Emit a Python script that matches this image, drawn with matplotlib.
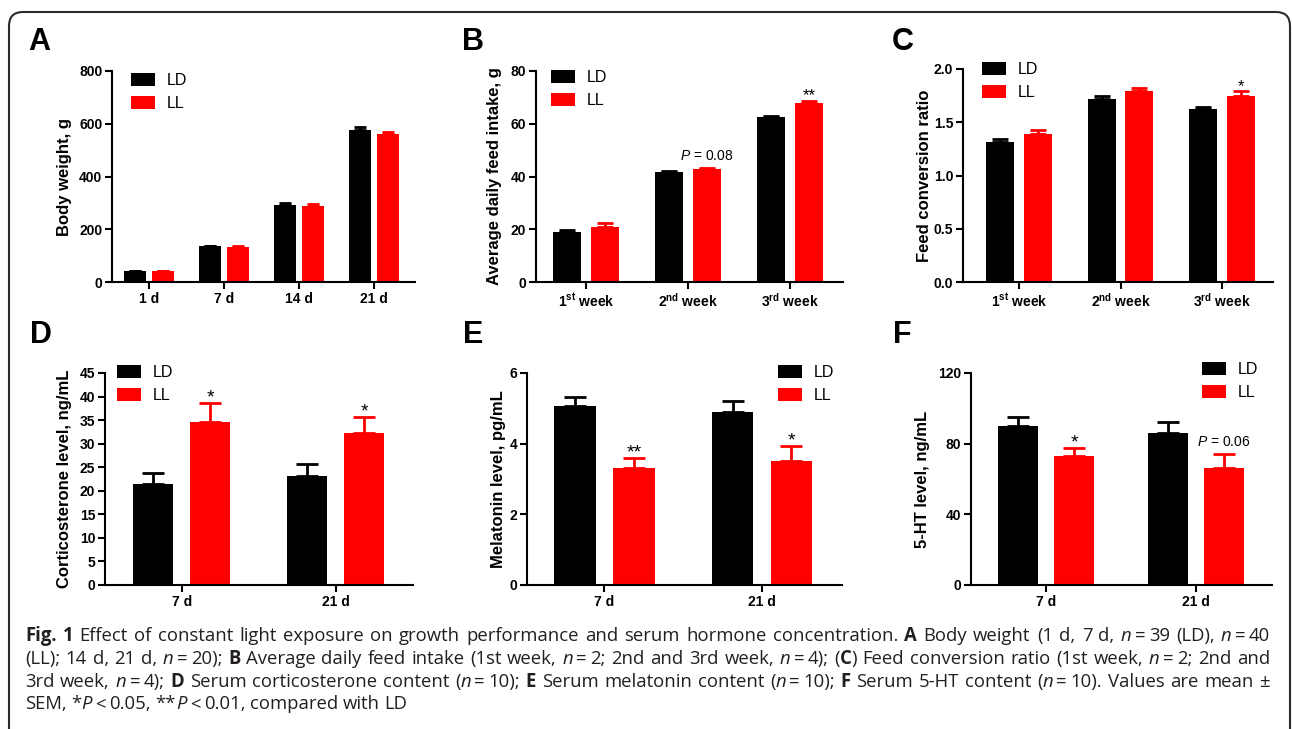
import re
import matplotlib
matplotlib.use('Agg')
import matplotlib.pyplot as plt
from matplotlib.patches import FancyBboxPatch
from matplotlib.transforms import IdentityTransform
import numpy as np

W, H = 1292, 729

plt.rcParams['font.family'] = ['Liberation Sans', 'DejaVu Sans']
plt.rcParams['mathtext.fontset'] = 'custom'
plt.rcParams['mathtext.rm'] = 'Liberation Sans'
plt.rcParams['mathtext.bf'] = 'Liberation Sans:bold'
plt.rcParams['mathtext.it'] = 'Liberation Sans:italic'
plt.rcParams['mathtext.default'] = 'bf'

groups = ['LD', 'LL']
colors = ['#000000', '#ff0000']

# A  body weight, g
a_cats = ['1 d', '7 d', '14 d', '21 d']
a_ld = [41, 135, 293, 576]
a_ld_err = [2, 3, 8, 11]
a_ll = [41, 133, 289, 563]
a_ll_err = [2, 2, 6, 7]
a_notes = []

# B  average daily feed intake, g
b_cats = ['1$^{st}$ week', '2$^{nd}$ week', '3$^{rd}$ week']
b_ld = [19.0, 41.8, 62.7]
b_ld_err = [0.6, 0.3, 0.4]
b_ll = [21.0, 42.8, 67.8]
b_ll_err = [1.2, 0.5, 0.8]
b_notes = [(1, r'$\mathit{P}$ = 0.08'), (2, '**')]

# C  feed conversion ratio
c_cats = ['1$^{st}$ week', '2$^{nd}$ week', '3$^{rd}$ week']
c_ld = [1.31, 1.72, 1.62]
c_ld_err = [0.03, 0.03, 0.025]
c_ll = [1.39, 1.79, 1.75]
c_ll_err = [0.04, 0.03, 0.04]
c_notes = [(2, '*')]

# D  corticosterone, ng/mL
d_cats = ['7 d', '21 d']
d_ld = [21.4, 23.2]
d_ld_err = [2.3, 2.4]
d_ll = [34.7, 32.2]
d_ll_err = [4.0, 3.5]
d_notes = [(0, '*'), (1, '*')]

# E  melatonin, pg/mL
e_cats = ['7 d', '21 d']
e_ld = [5.07, 4.89]
e_ld_err = [0.26, 0.32]
e_ll = [3.30, 3.51]
e_ll_err = [0.30, 0.42]
e_notes = [(0, '**'), (1, '*')]

# F  5-HT, ng/mL
f_cats = ['7 d', '21 d']
f_ld = [90.0, 86.2]
f_ld_err = [4.9, 6.2]
f_ll = [73.2, 66.0]
f_ll_err = [4.2, 8.1]
f_notes = [(0, '*'), (1, r'$\mathit{P}$ = 0.06')]

caption = [
    "[Fig. 1] Effect of constant light exposure on growth performance and serum hormone concentration. "
    "[A] Body weight (1 d, 7 d, {n}~=~39 (LD), {n}~=~40",
    "(LL); 14 d, 21 d, {n}~=~20); [B] Average daily feed intake (1st week, {n}~=~2; 2nd and 3rd week, "
    "{n}~=~4); ([C]) Feed conversion ratio (1st week, {n}~=~2; 2nd and",
    "3rd week, {n}~=~4); [D] Serum corticosterone content ({n}~=~10); [E] Serum melatonin content "
    "({n}~=~10); [F] Serum 5-HT content ({n}~=~10). Values are mean \u00b1",
    "SEM, *{P}~<~0.05, **{P}~<~0.01, compared with LD",
]

fig = plt.figure(figsize=(W / 100, H / 100), dpi=100)


def panel(rect, letter, letter_pos, cats, ld, ld_err, ll, ll_err, ylim, yticks,
          ylabel, ylabel_x, xlim, width, off, leg_pos, notes, star_fs, yfmt=None):
    x0, y0, x1, y1 = rect
    ax = fig.add_axes([x0 / W, 1 - y1 / H, (x1 - x0) / W, (y1 - y0) / H])
    x = np.arange(len(cats))
    bw_px = width * (x1 - x0) / (xlim[1] - xlim[0])
    cap = 0.27 * bw_px * 0.72
    for vals, errs, dx, c, g in [(ld, ld_err, -off, colors[0], groups[0]),
                                 (ll, ll_err, off, colors[1], groups[1])]:
        ax.bar(x + dx, vals, width, color=c, label=g, zorder=2)
        ax.errorbar(x + dx, vals, yerr=[np.zeros(len(vals)), errs], fmt='none',
                    ecolor=c, elinewidth=2, capsize=cap, capthick=2, zorder=1)

    for i, txt in notes:
        top = ll[i] + ll_err[i]
        if txt.startswith('*'):
            ax.annotate(txt, (x[i] + off, top), xytext=(0, 0.5), textcoords='offset points',
                        ha='center', va='baseline', fontsize=star_fs)
        else:
            ax.annotate(txt, (x[i] + off, top), xytext=(0, 5.5), textcoords='offset points',
                        ha='center', va='baseline', fontsize=10)

    ax.set_xlim(*xlim)
    ax.set_ylim(*ylim)
    ax.set_yticks(yticks)
    if yfmt:
        ax.set_yticklabels([yfmt % t for t in yticks])
    ax.set_xticks(x, cats)
    for s in ['top', 'right']:
        ax.spines[s].set_visible(False)
    for s in ['left', 'bottom']:
        ax.spines[s].set_linewidth(1.5)
    ax.tick_params(width=1.5, length=5, labelsize=10, pad=2)
    for lbl in ax.get_xticklabels() + ax.get_yticklabels():
        lbl.set_fontweight('bold')
    ax.set_ylabel(ylabel, fontsize=12, fontweight='bold', va='center')
    ax.yaxis.set_label_coords((ylabel_x - x0) / (x1 - x0), 0.5)

    lx, ly = leg_pos
    ax.legend(loc='upper left',
              bbox_to_anchor=((lx - x0) / (x1 - x0), 1 - (ly - 2 - y0) / (y1 - y0)),
              frameon=False, fontsize=11.5, handlelength=1.5, handleheight=0.875,
              handletextpad=0.75, labelspacing=0.47, borderpad=0, borderaxespad=0)

    fig.text(letter_pos[0] / W, 1 - letter_pos[1] / H, letter, fontsize=22,
             fontweight='bold', va='baseline', ha='left')
    return ax


panel((112, 71, 415, 282), 'A', (28, 50), a_cats, a_ld, a_ld_err, a_ll, a_ll_err,
      (0, 800), [0, 200, 400, 600, 800], 'Body weight, g', 65,
      (-0.493, 3.547), 0.29, 0.185, (131, 75), a_notes, 12)
panel((536, 71, 843, 282), 'B', (462, 50), b_cats, b_ld, b_ld_err, b_ll, b_ll_err,
      (0, 80), [0, 20, 40, 60, 80], 'Average daily feed intake, g', 495,
      (-0.49, 2.52), 0.275, 0.186, (551, 72), b_notes, 12)
panel((963, 69, 1273, 282), 'C', (892, 50), c_cats, c_ld, c_ld_err, c_ll, c_ll_err,
      (0, 2.0), [0, 0.5, 1.0, 1.5, 2.0], 'Feed conversion ratio', 925,
      (-0.552, 2.502), 0.276, 0.185, (982, 64), c_notes, 12, '%.1f')
panel((105, 373, 413, 585), 'D', (30, 343), d_cats, d_ld, d_ld_err, d_ll, d_ll_err,
      (0, 45), list(range(0, 50, 5)), 'Corticosterone level, ng/mL', 65,
      (-0.499, 1.504), 0.26, 0.186, (117, 367), d_notes, 14)
panel((527, 373, 842, 585), 'E', (463, 343), e_cats, e_ld, e_ld_err, e_ll, e_ll_err,
      (0, 6), [0, 2, 4, 6], 'Melatonin level, pg/mL', 498,
      (-0.492, 1.508), 0.263, 0.187, (778, 367), e_notes, 14)
panel((971, 373, 1272, 585), 'F', (893, 343), f_cats, f_ld, f_ld_err, f_ll, f_ll_err,
      (0, 120), [0, 40, 80, 120], '5-HT level, ng/mL', 923,
      (-0.5, 1.507), 0.267, 0.187, (1202, 364), f_notes, 14)

# rounded frame around the figure (open at the bottom edge)
frame = FancyBboxPatch((9, -30), 1281, H - 12 + 30, boxstyle='round,pad=0,rounding_size=14',
                       transform=IdentityTransform(), fill=False, lw=1.5, ec='#2b2b2b')
fig.add_artist(frame)

# caption, justified like the journal layout
renderer = fig.canvas.get_renderer()
cap_font = ['Open Sans', 'DejaVu Sans']
cap_color = '#231f20'
styles = {'normal': dict(fontweight='normal', fontstyle='normal'),
          'bold': dict(fontweight='bold', fontstyle='normal'),
          'italic': dict(fontweight='normal', fontstyle='italic')}


def parse(line):
    words = [[]]
    for p in re.split(r'(\[.+?\]|\{.+?\})', line):
        if not p:
            continue
        if p[0] == '[':
            txt, st = p[1:-1], 'bold'
        elif p[0] == '{':
            txt, st = p[1:-1], 'italic'
        else:
            txt, st = p, 'normal'
        for k, pc in enumerate(txt.split(' ')):
            if k > 0:
                words.append([])
            if pc:
                words[-1].append((pc, st))
    runs = []
    for w in words:
        if not w:
            continue
        first = True
        fixed = False
        for txt, st in w:
            for k, part in enumerate(txt.split('~')):
                if k > 0:
                    fixed = True
                if part:
                    runs.append((part, st, 'stretch' if first else ('fixed' if fixed else 'none')))
                    first = False
                    fixed = False
    return runs


def measure(txt, st, fs):
    t = fig.text(0, 0, txt, fontsize=fs, family=cap_font, **styles[st])
    w = t.get_window_extent(renderer).width
    t.remove()
    return w


def line_width(runs, fs):
    w = sum(measure(t, s, fs) for t, s, _ in runs)
    fixed = sum(1 for r in runs if r[2] == 'fixed')
    stretch = sum(1 for r in runs[1:] if r[2] == 'stretch')
    return w, fixed, stretch


def space(fs):
    return measure('a a', 'normal', fs) - measure('aa', 'normal', fs)


left, right = 25, 1270
parsed = [parse(l) for l in caption]

# size the caption so the widest full line nearly fills the column
cap_fs = 10
sp = space(cap_fs)
nat = []
for runs in parsed[:3]:
    w, nf, ns = line_width(runs, cap_fs)
    nat.append(w + 0.7 * sp * nf + sp * ns)
cap_fs = cap_fs * (right - left) * 0.985 / max(nat)
sp = space(cap_fs)

baselines = [641, 664, 687, 709]
for li, runs in enumerate(parsed):
    w, nf, ns = line_width(runs, cap_fs)
    if li < 3 and ns > 0:
        gap = (right - left - w - 0.7 * sp * nf) / ns
    else:
        gap = sp
    xpos = left
    for k, (txt, st, g) in enumerate(runs):
        if k > 0:
            if g == 'stretch':
                xpos += gap
            elif g == 'fixed':
                xpos += 0.7 * sp
        t = fig.text(xpos / W, 1 - baselines[li] / H, txt, fontsize=cap_fs, family=cap_font,
                     color=cap_color, va='baseline', ha='left', **styles[st])
        xpos += t.get_window_extent(renderer).width

fig.savefig('out.png', dpi=100)
